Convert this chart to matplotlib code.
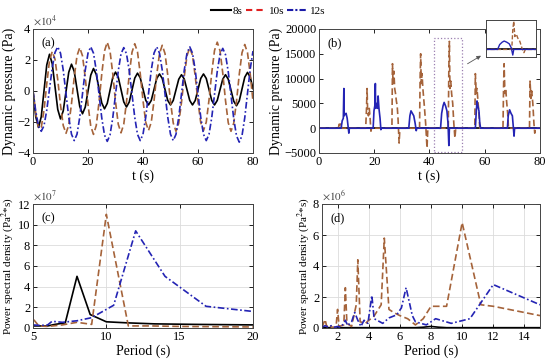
import numpy as np
import matplotlib
matplotlib.use('Agg')
import matplotlib.pyplot as plt
from matplotlib.lines import Line2D

plt.rcParams['font.family'] = ['Liberation Serif', 'DejaVu Serif']
plt.rcParams['mathtext.fontset'] = 'stix'

# ---- data ----
# (a) dynamic pressure time series, x1e4 Pa, one value per second
t_a = list(range(0, 81))
p8_a = [0, -1.66, -2.35, -1.66, 0.01, 1.68, 2.37, 1.76, 0.29, -1.19,
        -1.8, -1.28, -0.04, 1.21, 1.73, 1.26, 0.13, -1.0, -1.47, -1.04,
        -0.01, 1.02, 1.45, 1.07, 0.15, -0.77, -1.15, -0.8, 0.04, 0.87,
        1.22, 0.89, 0.1, -0.7, -1.03, -0.71, 0.06, 0.83, 1.15, 0.85,
        0.13, -0.6, -0.9, -0.61, 0.1, 0.81, 1.1, 0.81, 0.1, -0.61,
        -0.9, -0.61, 0.08, 0.76, 1.05, 0.77, 0.08, -0.61, -0.9, -0.61,
        0.1, 0.81, 1.1, 0.81, 0.1, -0.61, -0.9, -0.61, 0.08, 0.76,
        1.05, 0.76, 0.05, -0.66, -0.95, -0.64, 0.13, 0.89, 1.2, 0.89,
        0.15]
p10_a = [0, -1.47, -2.38, -2.35, -1.24, 0.46, 1.96, 2.55, 2.05, 0.73,
         -0.9, -2.23, -2.73, -2.2, -0.82, 0.89, 2.27, 2.8, 2.27, 0.87,
         -0.87, -2.27, -2.8, -2.23, -0.74, 1.09, 2.58, 3.15, 2.59, 1.13,
         -0.68, -2.14, -2.7, -2.15, -0.71, 1.06, 2.5, 3.05, 2.52, 1.12,
         -0.62, -2.02, -2.55, -2.02, -0.65, 1.05, 2.42, 2.95, 2.42, 1.03,
         -0.68, -2.07, -2.6, -2.08, -0.73, 0.93, 2.28, 2.8, 2.29, 0.95,
         -0.7, -2.04, -2.55, -2.01, -0.58, 1.18, 2.61, 3.15, 2.6, 1.16,
         -0.61, -2.05, -2.6, -2.07, -0.67, 1.07, 2.47, 3.0, 2.47, 1.07,
         -0.67]
p12_a = [0, -1.3, -2.25, -2.6, -2.24, -1.24, 0.13, 1.49, 2.49, 2.85,
         2.44, 1.34, -0.18, -1.69, -2.79, -3.2, -2.79, -1.69, -0.18, 1.34,
         2.44, 2.85, 2.44, 1.33, -0.2, -1.73, -2.84, -3.25, -2.84, -1.74,
         -0.23, 1.29, 2.39, 2.8, 2.4, 1.3, -0.2, -1.7, -2.8, -3.2,
         -2.79, -1.69, -0.18, 1.34, 2.44, 2.85, 2.44, 1.34, -0.18, -1.69,
         -2.79, -3.2, -2.79, -1.69, -0.18, 1.34, 2.44, 2.85, 2.44, 1.34,
         -0.18, -1.69, -2.79, -3.2, -2.8, -1.71, -0.23, 1.26, 2.35, 2.75,
         2.35, 1.24, -0.28, -1.79, -2.89, -3.3, -2.88, -1.73, -0.15, 1.43,
         2.58]

# (b) slamming pressure, Pa
t10_b = [0, 7.0, 7.3, 7.6, 7.9, 8.2, 16.9, 17.2, 17.4, 17.6, 17.9, 18.2, 18.5, 18.8, 19.0,
         26.4, 26.6, 26.8, 27.1, 27.4, 27.7, 28.0, 28.3, 28.6, 29.0, 29.3,
         36.4, 36.6, 36.8, 37.0, 37.3, 37.6, 37.9, 38.2, 38.6, 39.1, 39.4,
         46.8, 47.0, 47.2, 47.4, 47.7, 48.0, 48.4, 48.8, 49.2, 49.5,
         56.4, 56.6, 56.9, 57.2, 57.6, 57.9, 58.2,
         66.6, 66.8, 67.0, 67.3, 67.6, 67.9, 68.3, 68.6,
         76.2, 76.4, 76.7, 77.0, 77.4, 77.8, 78.1, 78.3, 80]
p10_b = [0, 0, 800, 600, 1000, 0, 0, 4000, 8000, 3500, 2500, 4000, 2000, -600, 0,
         0, 13000, 9000, 11500, 8000, 7000, 5500, 4500, 2000, -3000, 0,
         0, 10000, 15000, 9000, 11000, 8000, 6000, 4000, 1000, -4000, 0,
         0, 12000, 17500, 8000, 9500, 7000, 5000, 1000, -2000, 0,
         0, 11000, 7000, 8000, 5000, 3000, 0,
         0, 8000, 13000, 7000, 8000, 5500, 3000, 0,
         0, 9500, 6000, 7500, 5000, 1000, -1000, 0, 0]
t12_b = [0, 8.0, 8.4, 8.8, 9.0, 9.1, 9.4, 9.8, 10.2, 10.5, 10.8, 11.0,
         19.6, 19.9, 20.2, 20.4, 20.5, 20.9, 21.2, 21.4, 21.7, 22.1, 22.4, 22.6,
         32.5, 32.9, 33.3, 33.8, 34.3, 34.8, 35.2, 35.4,
         44.0, 44.4, 44.9, 45.3, 45.8, 46.3, 46.7, 47.0, 47.2,
         56.6, 56.9, 57.2, 57.5, 57.9, 58.2, 58.5,
         68.2, 68.5, 69.0, 69.5, 70.0, 70.3, 70.6, 70.8, 80]
p12_b = [0, 0, 1500, 2000, 8000, 2500, 2800, 3000, 2000, 500, -1000, 0,
         0, 3500, 4500, 9000, 4000, 5000, 4000, 6500, 4000, 2000, -300, 0,
         0, 2500, 3500, 3000, 2500, 1000, -500, 0,
         0, 3000, 4500, 5200, 4500, 3500, 1000, -3500, 0,
         0, 3000, 5500, 4500, 3500, 1000, 0,
         0, 2500, 3700, 3000, 2500, 500, -1600, 0, 0]
t8_b = [0, 80]
p8_b = [0, 0]

# (c) PSD vs period, x1e7
T8_c = [5, 5.5, 6, 6.5, 7.2, 8, 8.9, 10, 11.4, 13.3, 16, 20]
S8_c = [0.2, 0.2, 0.2, 0.35, 0.5, 5.0, 1.3, 0.6, 0.5, 0.4, 0.35, 0.3]
T10_c = [5.05, 5.4, 6, 7, 8, 9, 10, 11.5, 13, 15, 20]
S10_c = [0.8, 0.2, 0.15, 0.3, 0.55, 0.35, 11.0, 0.2, 0.2, 0.15, 0.1]
T12_c = [5, 5.5, 6, 6.3, 7, 8, 9, 10.5, 12, 14, 16.8, 20]
S12_c = [0.3, 0.25, 0.3, 0.65, 0.55, 0.7, 1.0, 2.2, 9.4, 5.0, 2.1, 1.6]

# (d) PSD of slamming pressure vs period, x1e6
T8_d = [1, 7, 7.5, 8, 8.5, 9, 15]
S8_d = [0.02, 0.02, 0.05, 0.1, 0.05, 0.02, 0.02]
T10_d = [1.0, 1.1, 1.2, 1.3, 1.5, 1.6, 1.9, 2.0, 2.1, 2.4, 2.5, 2.6, 2.9, 3.2, 3.3, 3.45,
         3.8, 4.0, 4.3, 4.8, 5.0, 5.3, 5.6, 6.0, 6.5, 7.0, 7.5, 8.0, 9.0, 10.0, 11.2, 12.0, 15.0]
S10_d = [0.05, 0.3, 0.55, 0.1, 0.2, 0.05, 0.05, 1.2, 0.1, 0.2, 2.6, 0.3, 0.1, 1.5, 4.4, 0.4,
         0.3, 0.5, 0.7, 1.5, 5.8, 1.2, 1.0, 0.8, 0.6, 0.2, 0.6, 1.4, 1.4, 6.8, 1.5, 1.4, 0.8]
T12_d = [1.0, 1.2, 1.4, 1.6, 1.8, 2.0, 2.2, 2.4, 2.5, 2.65, 2.9, 3.1, 3.3, 3.5, 3.7, 3.95,
         4.2, 4.35, 4.9, 5.3, 5.8, 6.1, 6.4, 6.8, 7.0, 7.7, 8.3, 9.3, 10.5, 12.0, 15.0]
S12_d = [0.05, 0.15, 0.05, 0.15, 0.05, 0.1, 0.05, 0.3, 0.5, 0.15, 0.4, 1.0, 0.5, 0.1, 0.5, 0.3,
         2.1, 0.6, 0.3, 0.65, 0.85, 1.3, 2.6, 0.8, 0.4, 0.2, 0.6, 0.3, 0.6, 2.8, 1.5]

labels = ['8s', '10s', '12s']

# ---- styles ----
c8, c10, c12 = 'black', '#a5633a', '#2424b4'
st8 = dict(color=c8, lw=1.2, ls='-')
st10 = dict(color=c10, lw=1.2, ls=(0, (4, 2)))
st12 = dict(color=c12, lw=1.2, ls=(0, (4, 1.5, 1, 1.5)))

fig = plt.figure(figsize=(5.5, 3.63), dpi=100)
W, H = 550, 363


def add_ax(l, r, t, b):
    return fig.add_axes([l / W, 1 - b / H, (r - l) / W, (b - t) / H])


def style(ax, grid=False):
    ax.tick_params(direction='in', top=True, right=True, labelsize=9,
                   length=3, width=0.6, pad=2)
    for s in ax.spines.values():
        s.set_linewidth(0.7)
        s.set_color('#444444')
    if grid:
        ax.grid(True, color='#dcdcdc', lw=0.6)
        ax.set_axisbelow(True)


# (a)
ax = add_ax(33, 253, 29, 153)
ax.plot(t_a, p8_a, **st8)
ax.plot(t_a, p10_a, **st10)
ax.plot(t_a, p12_a, **st12)
ax.set_xlim(0, 80)
ax.set_ylim(-4, 4)
ax.set_xticks([0, 20, 40, 60, 80])
ax.set_yticks([-4, -2, 0, 2, 4])
ax.set_xlabel('t (s)', fontsize=10, labelpad=1)
ax.set_ylabel('Dynamic pressure (Pa)', fontsize=10, labelpad=1)
ax.text(0.0, 1.01, r'$\times10^4$', transform=ax.transAxes, fontsize=8, va='bottom', color='#444444')
ax.text(0.04, 0.93, '(a)', transform=ax.transAxes, fontsize=9, va='top')
style(ax)

# (b)
ax = add_ax(319, 540, 29, 153)
ax.plot(t8_b, p8_b, **st8)
ax.plot(t10_b, p10_b, **st10)
ax.plot(t12_b, p12_b, color=c12, lw=1.2)
ax.set_xlim(0, 80)
ax.set_ylim(-5000, 20000)
ax.set_xticks([0, 20, 40, 60, 80])
ax.set_yticks([-5000, 0, 5000, 10000, 15000, 20000])
ax.set_xlabel('t (s)', fontsize=10, labelpad=1)
ax.set_ylabel('Dynamic pressure (Pa)', fontsize=10, labelpad=1)
ax.text(0.04, 0.93, '(b)', transform=ax.transAxes, fontsize=9, va='top')
rx0, rx1, ry0, ry1 = 41.7, 51.6, -4700, 18250
ax.add_patch(plt.Rectangle((rx0, ry0), rx1 - rx0, ry1 - ry0, fill=False,
                           ls=':', lw=0.9, ec='#9a7fb0'))
ax.annotate('', xy=(59.5, 14900), xytext=(52.9, 12700),
            arrowprops=dict(arrowstyle='-|>', color='#555555', lw=0.6,
                            mutation_scale=6))
style(ax)

ins = add_ax(486, 536, 20, 57)
ins.plot(t8_b, p8_b, **st8)
ins.plot(t10_b, p10_b, color=c10, lw=1.0, ls=(0, (3, 1.5)))
ins.plot(t12_b, p12_b, color=c12, lw=1.0)
ins.set_xlim(rx0, rx1)
ins.set_ylim(ry0, ry1)
ins.set_xticks([])
ins.set_yticks([])
for s in ins.spines.values():
    s.set_linewidth(0.7)
    s.set_color('#444444')

# (c)
ax = add_ax(33, 253, 204, 328)
ax.plot(T8_c, S8_c, **st8)
ax.plot(T10_c, S10_c, **st10)
ax.plot(T12_c, S12_c, **st12)
ax.set_xlim(5, 20)
ax.set_ylim(0, 12)
ax.set_xticks([5, 10, 15, 20])
ax.set_yticks([0, 2, 4, 6, 8, 10, 12])
ax.set_xlabel('Period (s)', fontsize=10, labelpad=1)
ax.set_ylabel(r'Power spectral density (Pa$^2$*s)', fontsize=8, labelpad=1)
ax.text(0.0, 1.01, r'$\times10^7$', transform=ax.transAxes, fontsize=8, va='bottom', color='#444444')
ax.text(0.04, 0.93, '(c)', transform=ax.transAxes, fontsize=9, va='top')
style(ax, grid=True)

# (d)
ax = add_ax(322, 540, 204, 328)
ax.plot(T8_d, S8_d, **st8)
ax.plot(T10_d, S10_d, **st10)
ax.plot(T12_d, S12_d, **st12)
ax.set_xlim(1, 15)
ax.set_ylim(0, 8)
ax.set_xticks([2, 4, 6, 8, 10, 12, 14])
ax.set_yticks([0, 2, 4, 6, 8])
ax.set_xlabel('Period (s)', fontsize=10, labelpad=1)
ax.set_ylabel(r'Power spectral density (Pa$^2$*s)', fontsize=8, labelpad=1)
ax.text(0.0, 1.01, r'$\times10^6$', transform=ax.transAxes, fontsize=8, va='bottom', color='#444444')
ax.text(0.04, 0.93, '(d)', transform=ax.transAxes, fontsize=9, va='top')
style(ax, grid=True)

# legend on top
handles = [Line2D([], [], color='black', lw=1.5),
           Line2D([], [], color='#e02020', lw=1.5, ls=(0, (3, 2))),
           Line2D([], [], color='#1a1aa8', lw=1.5, ls=(0, (3, 1, 1, 1)))]
fig.legend(handles, labels, loc='center', bbox_to_anchor=(268 / W, 1 - 11 / H),
           ncol=3, frameon=False, fontsize=8, handlelength=1.8,
           handletextpad=0.2, columnspacing=0.3)

fig.savefig('out.png', dpi=100)
